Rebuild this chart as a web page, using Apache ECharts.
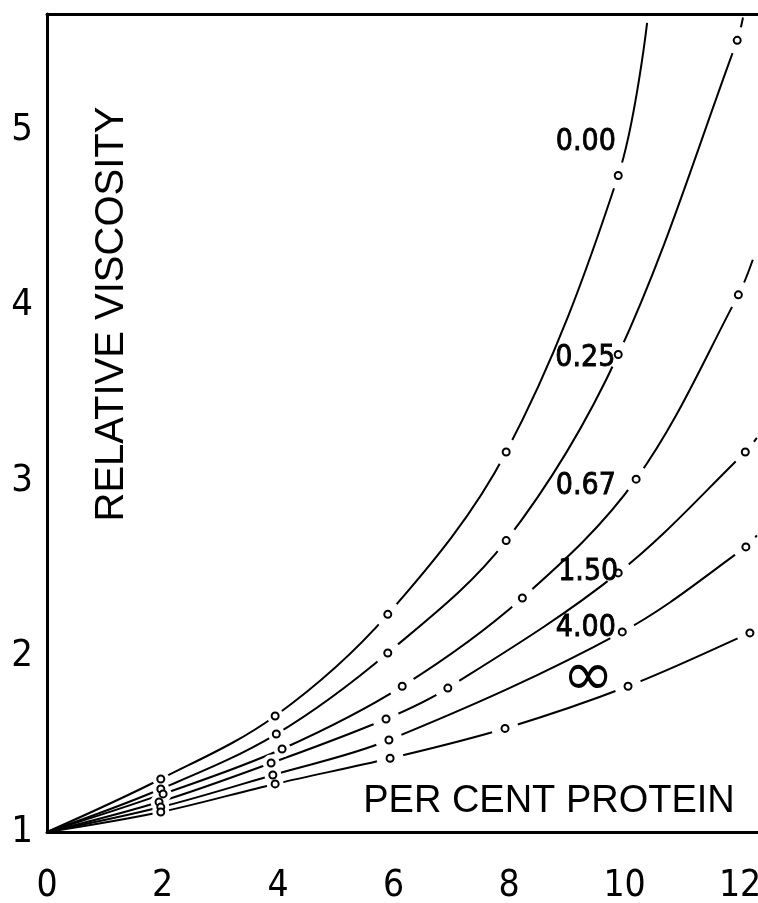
<!DOCTYPE html>
<html><head><meta charset="utf-8">
<script src="https://cdn.jsdelivr.net/npm/echarts@6/dist/echarts.min.js"></script>
<style>html,body{margin:0;padding:0;background:#fff}#c{width:758px;height:903px}</style>
</head><body><div id="c"></div>
<script>
// ---- data ----
const xTicks = [0, 2, 4, 6, 8, 10, 12];
const yTicks = [1, 2, 3, 4, 5];
const curveNames = ['0.00', '0.25', '0.67', '1.50', '4.00', '\u221E'];
const origin = [0, 1];
const pts000 = [[1.97, 1.302], [3.95, 1.661], [5.90, 2.24], [7.95, 3.165], [9.89, 4.74]];
const pts025 = [[1.97, 1.245], [3.97, 1.558], [5.90, 2.02], [7.95, 2.66], [9.89, 3.72], [11.95, 5.51]];
const pts067 = [[2.01, 1.217], [4.07, 1.473], [6.15, 1.83], [8.23, 2.333], [10.20, 3.01], [11.97, 4.06]];
const pts150 = [[1.94, 1.171], [3.88, 1.393], [5.87, 1.644], [6.94, 1.82], [9.89, 2.476], [12.09, 3.165]];
const pts400 = [[1.97, 1.142], [3.91, 1.325], [5.92, 1.524], [9.96, 2.14], [12.10, 2.624]];
const ptsInf = [[1.97, 1.114], [3.95, 1.274], [5.94, 1.42], [7.93, 1.59], [10.06, 1.83], [12.17, 2.134]];
const curveEnds = [[10.39, 5.61], [12.05, 5.64], [12.22, 4.26], [12.29, 3.245], [12.29, 2.69], [12.31, 2.16]];
const labelAt = [[9.33, 4.93], [9.32, 3.70], [9.33, 2.97], [9.37, 2.48], [9.33, 2.16], [9.37, 1.87]];
const xTitle = 'PER CENT PROTEIN';
const yTitle = 'RELATIVE VISCOSITY';

const allPts = [pts000, pts025, pts067, pts150, pts400, ptsInf];

const chart = echarts.init(document.getElementById('c'), null, {renderer: 'canvas'});
const X_MAX = 12.31, Y_MAX = 5.66;
const tickFont = "'Liberation Sans Narrow','DejaVu Sans Condensed','Liberation Sans',sans-serif";
const titleFont = "'Liberation Sans','DejaVu Sans',sans-serif";

const series = [];
allPts.forEach((p, i) => {
  series.push({
    name: curveNames[i], type: 'line', z: 2, zlevel: 0,
    data: [origin].concat(p, [curveEnds[i]]),
    smooth: 0.35, showSymbol: false, symbol: 'none',
    lineStyle: {color: '#000', width: 2}, silent: true
  });
});
const markerData = [].concat(...allPts);
// white gap masks (drawn above the lines, under the circles)
series.push({
  type: 'scatter', z: 5, zlevel: 0, data: markerData, symbol: 'circle',
  symbolSize: function (v) { return v[0] < 5 ? 17 : 27; },
  itemStyle: {color: '#ffffff', borderWidth: 0, opacity: 1}, silent: true
});
series.push({
  type: 'scatter', z: 6, zlevel: 0, data: markerData, symbol: 'circle', symbolSize: 7,
  itemStyle: {color: '#ffffff', borderColor: '#000', borderWidth: 2, opacity: 1}, silent: true
});

chart.setOption({
  animation: false,
  backgroundColor: '#fff',
  grid: {left: 47, right: 0, top: 14, bottom: 71, containLabel: false, outerBoundsMode: 'none'},
  xAxis: [{
    type: 'value', min: 0, max: X_MAX, interval: 2, position: 'bottom',
    axisLine: {show: true, onZero: false, lineStyle: {color: '#000', width: 3}},
    axisTick: {show: false}, splitLine: {show: false},
    axisLabel: {customValues: xTicks, margin: 36, color: '#000', fontSize: 37, fontFamily: tickFont}
  }, {
    type: 'value', min: 0, max: X_MAX, position: 'top',
    axisLine: {show: true, onZero: false, lineStyle: {color: '#000', width: 3}},
    axisTick: {show: false}, splitLine: {show: false}, axisLabel: {show: false}
  }],
  yAxis: {
    type: 'value', min: 1, max: Y_MAX, interval: 1,
    axisLine: {show: true, onZero: false, lineStyle: {color: '#000', width: 3}},
    axisTick: {show: false}, splitLine: {show: false},
    axisLabel: {customValues: yTicks, margin: 14, color: '#000', fontSize: 38, fontFamily: tickFont}
  },
  series: series
});

const g = [];
labelAt.forEach((c, i) => {
  const p = chart.convertToPixel({gridIndex: 0}, c);
  const isInf = i === 5;
  g.push({
    type: 'text', x: p[0], y: p[1], z: 100,
    style: {
      text: curveNames[i], fill: '#000',
      font: isInf ? "62px 'DejaVu Sans',sans-serif" : "30px " + tickFont,
      textAlign: 'center', textVerticalAlign: 'middle',
      stroke: isInf ? null : '#000', lineWidth: isInf ? 0 : 0.8
    }
  });
});
g.push({
  type: 'text', x: 549, y: 802, z: 100,
  style: {text: xTitle, fill: '#000', font: '38px ' + titleFont, textAlign: 'center', textVerticalAlign: 'middle'}
});
g.push({
  type: 'text', x: 112, y: 314, rotation: Math.PI / 2, z: 100,
  style: {text: yTitle, fill: '#000', font: '40px ' + titleFont, textAlign: 'center', textVerticalAlign: 'middle'}
});
chart.setOption({graphic: g});
</script>
</body></html>
